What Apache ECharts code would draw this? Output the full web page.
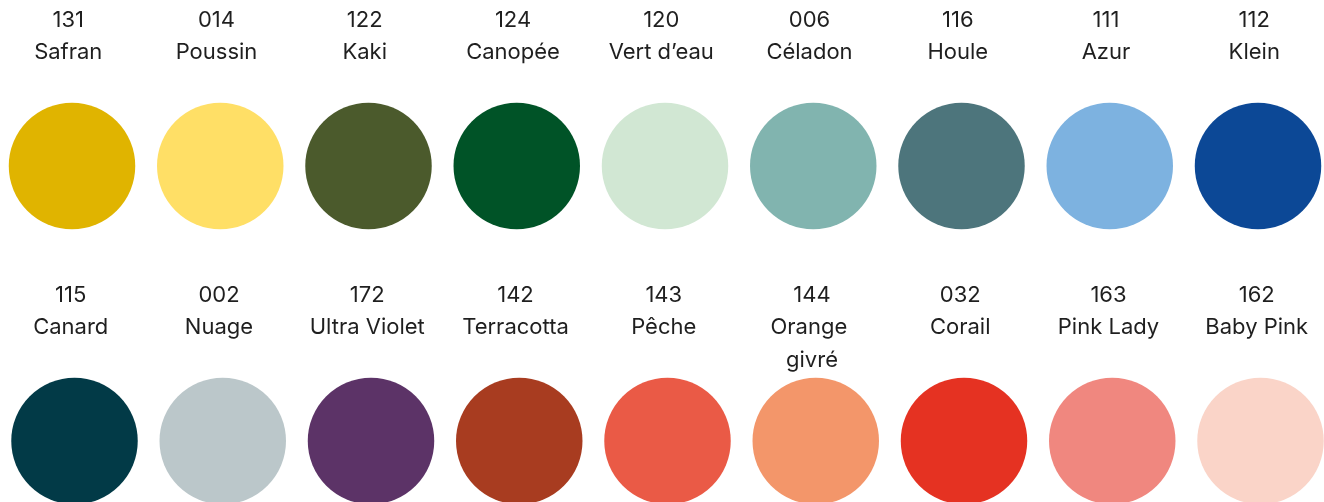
<!DOCTYPE html>
<html>
<head>
<meta charset="utf-8">
<script src="https://cdn.jsdelivr.net/npm/echarts@6/dist/echarts.min.js"></script>
<style>
html,body{margin:0;padding:0;background:#fff;}
#chart{width:1324px;height:502px;}
</style>
</head>
<body>
<div id="chart"></div>
<script>
const codes = ['131','014','122','124','120','006','116','111','112',
               '115','002','172','142','143','144','032','163','162'];
const names = ['Safran','Poussin','Kaki','Canopée','Vert d’eau','Céladon','Houle','Azur','Klein',
               'Canard','Nuage','Ultra Violet','Terracotta','Pêche','Orange givré','Corail','Pink Lady','Baby Pink'];
const colors = ['#E0B400','#FFDF66','#4B5A2C','#005327','#D1E7D3','#81B4AF','#4D757C','#7DB2E0','#0C4896',
                '#023A47','#BBC7CA','#5C3367','#A83C20','#EA5A46','#F3966A','#E53222','#F0877F','#FAD4C8'];
const columns = [0,1,2,3,4,5,6,7,8, 0,1,2,3,4,5,6,7,8];
const rows    = [0,0,0,0,0,0,0,0,0, 1,1,1,1,1,1,1,1,1];

const chart = echarts.init(document.getElementById('chart'), null, {renderer:'canvas'});
const data = codes.map((c, i) => ({
  value: [columns[i], rows[i]],
  code: c,
  name: names[i],
  symbolOffset: rows[i] === 1 ? [2.5, 0] : [0, 0],
  itemStyle: { color: colors[i], opacity: 1 }
}));

chart.setOption({
  animation: false,
  backgroundColor: '#ffffff',
  grid: { left: 72, right: 66, top: 166, bottom: 61 },
  xAxis: { type: 'value', min: 0, max: 8, show: false },
  yAxis: { type: 'value', min: 0, max: 1, inverse: true, show: false },
  series: [{
    type: 'scatter',
    clip: false,
    symbol: 'circle',
    symbolSize: 126.5,
    itemStyle: { opacity: 1 },
    data: data,
    label: {
      show: true,
      position: [59.5, -99],
      align: 'center',
      verticalAlign: 'top',
      fontFamily: 'Inter',
      fontSize: 22,
      lineHeight: 32.5,
      color: '#1f1f1f',
      opacity: 1,
      width: 125,
      overflow: 'break',
      formatter: p => p.data.code + '\n' + p.data.name
    },
    emphasis: { disabled: true }
  }]
});
</script>
</body>
</html>
